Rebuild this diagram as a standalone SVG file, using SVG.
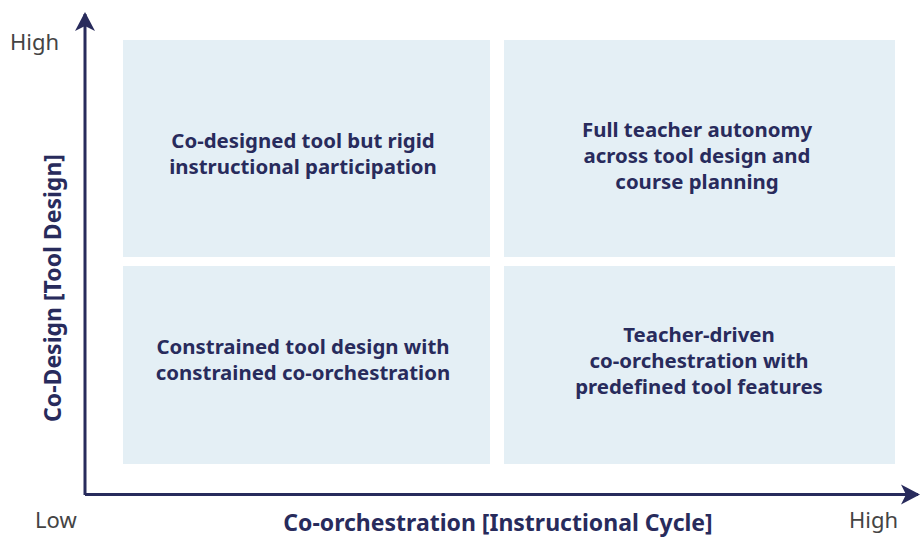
<svg xmlns="http://www.w3.org/2000/svg" width="920" height="538" viewBox="0 0 920 538">
<style>
.box{fill:#e4eff5}
.lbl{font-family:"Noto Sans",sans-serif;font-weight:bold;font-size:20.4px;fill:#282b5c;text-anchor:middle}
.ax{font-family:"Noto Sans",sans-serif;font-weight:bold;font-size:23px;fill:#282b5c;text-anchor:middle}
.tick{font-family:"Noto Sans",sans-serif;font-size:22px;fill:#444444}
.axis{stroke:#282b5c;stroke-width:3;fill:none}
</style>
<rect width="920" height="538" fill="#ffffff"/>
<g id="q-tl"><rect class="box" x="123" y="40" width="367" height="217"/>
<text class="lbl" x="303" y="148">Co-designed tool but rigid</text>
<text class="lbl" x="303" y="174">instructional participation</text></g>
<g id="q-tr"><rect class="box" x="504" y="40" width="391" height="217"/>
<text class="lbl" x="697" y="137">Full teacher autonomy</text>
<text class="lbl" x="697" y="163">across tool design and</text>
<text class="lbl" x="697" y="189">course planning</text></g>
<g id="q-bl"><rect class="box" x="123" y="266" width="367" height="198"/>
<text class="lbl" x="303" y="354">Constrained tool design with</text>
<text class="lbl" x="303" y="380">constrained co-orchestration</text></g>
<g id="q-br"><rect class="box" x="504" y="266" width="391" height="198"/>
<text class="lbl" x="699" y="342">Teacher-driven</text>
<text class="lbl" x="699" y="368">co-orchestration with</text>
<text class="lbl" x="699" y="394">predefined tool features</text></g>
<g id="axes">
<path class="axis" d="M85,495 L85,14"/>
<path class="axis" d="M85,494.5 L918,494.5"/>
<path d="M85,12 L75,31 L85,26 L95,31 z" fill="#282b5c"/>
<path d="M920,494.5 L901,484.5 L906,494.5 L901,504.5 z" fill="#282b5c"/>
</g>
<g id="labels">
<text class="tick" x="10" y="50">High</text>
<text class="tick" x="35" y="528">Low</text>
<text class="tick" x="849" y="528">High</text>
<text class="ax" x="498" y="531">Co-orchestration [Instructional Cycle]</text>
<text class="ax" transform="translate(61,288) rotate(-90)" x="0" y="0">Co-Design [Tool Design]</text>
</g>
</svg>
